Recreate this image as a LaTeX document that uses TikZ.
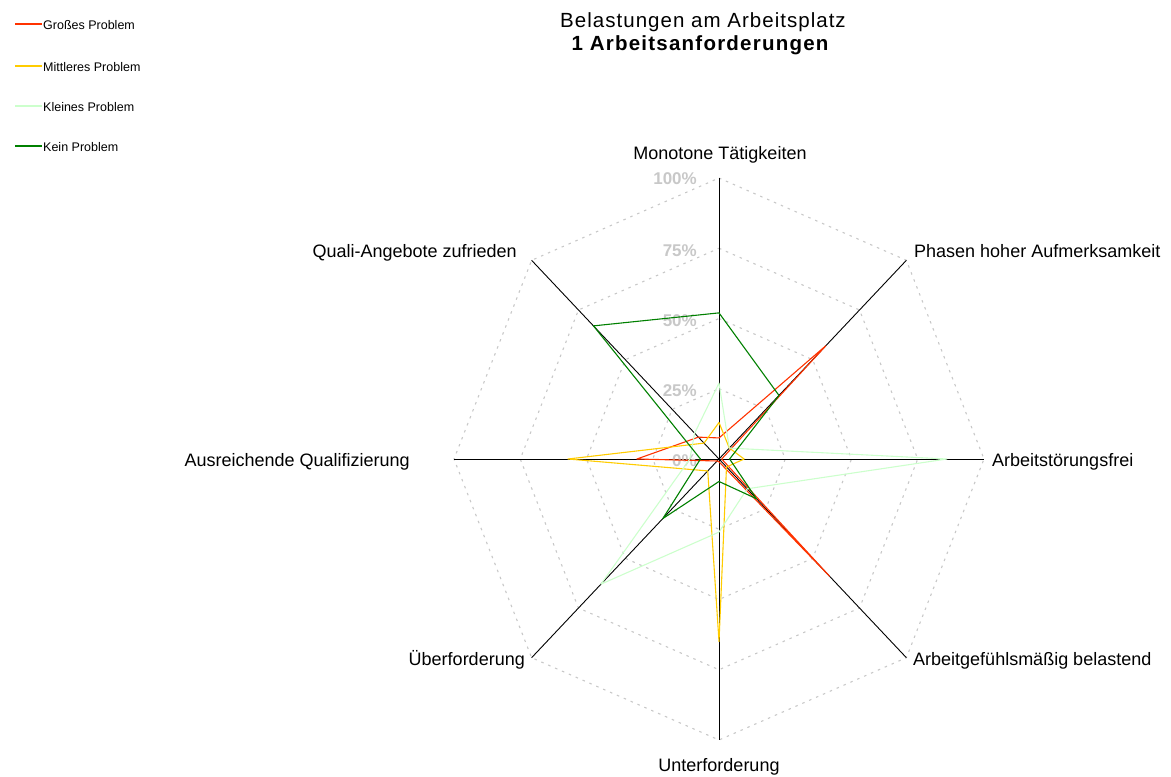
\documentclass[tikz,border=0pt]{standalone}
\usepackage{fontspec}
\setmainfont{Liberation Sans}
\definecolor{sred}{HTML}{FF3300}
\definecolor{syellow}{HTML}{FFCC00}
\definecolor{slgreen}{HTML}{CCFFCC}
\definecolor{sdgreen}{HTML}{008000}
\definecolor{pctgray}{HTML}{C8C8C8}
\definecolor{gridgray}{HTML}{C8C8C8}
\tikzset{
  series/.style={line width=1.1pt, line join=round},
  gridring/.style={draw=gridgray, line width=1.1pt, dash pattern=on 2.5pt off 5pt},
  spoke/.style={draw=black, line width=0.9pt},
  catlabel/.style={font=\fontsize{18}{21}\selectfont, inner sep=0pt},
  pctlabel/.style={font=\fontsize{17}{20}\selectfont\bfseries, text=pctgray, inner sep=0pt, anchor=east},
  leglabel/.style={font=\fontsize{12.5}{15}\selectfont, inner sep=0pt, anchor=base west},
  legline/.style={line width=1.1pt},
}
\begin{document}
\begin{tikzpicture}[x=1pt,y=-1pt]
\useasboundingbox (0,0) rectangle (1171,777);
% legend
\coordinate (l1a) at (15,24); \coordinate (l1b) at (42,24);
\coordinate (l2a) at (15,66); \coordinate (l2b) at (42,66);
\coordinate (l3a) at (15,106); \coordinate (l3b) at (42,106);
\coordinate (l4a) at (15,146); \coordinate (l4b) at (42,146);
\draw[legline, sred] (l1a) -- (l1b);
\draw[legline, syellow] (l2a) -- (l2b);
\draw[legline, slgreen] (l3a) -- (l3b);
\draw[legline, sdgreen] (l4a) -- (l4b);
\node[leglabel] (lg1) at (43,29.5) {Großes Problem};
\node[leglabel] (lg2) at (43,71.5) {Mittleres Problem};
\node[leglabel] (lg3) at (43,111.5) {Kleines Problem};
\node[leglabel] (lg4) at (43,151.5) {Kein Problem};
% title
\node[font=\fontsize{20.5}{24}\selectfont\addfontfeature{LetterSpace=5}, anchor=base, inner sep=0pt] (title) at (703,27) {Belastungen am Arbeitsplatz};
\node[font=\fontsize{20.5}{24}\selectfont\bfseries\addfontfeature{LetterSpace=6}, anchor=base, inner sep=0pt] (subtitle) at (700,50) {1 Arbeitsanforderungen};
% category labels
\node[catlabel, anchor=base] (c1) at (720,159.5) {Monotone Tätigkeiten};
\node[catlabel, anchor=base west] (c2) at (914,257) {Phasen hoher Aufmerksamkeit};
\node[catlabel, anchor=base west] (c3) at (992,466) {Arbeitstörungsfrei};
\node[catlabel, anchor=base west] (c4) at (913,665) {Arbeitgefühlsmäßig belastend};
\node[catlabel, anchor=base] (c5) at (719,771) {Unterforderung};
\node[catlabel, anchor=base east] (c6) at (525,665) {Überforderung};
\node[catlabel, anchor=base east] (c7) at (410,466) {Ausreichende Qualifizierung};
\node[catlabel, anchor=base east] (c8) at (517,257) {Quali-Angebote zufrieden};
% chart
\begin{scope}[shift={(719,459)}, x=265pt, y=281pt]
  \coordinate (O) at (0,0);
  \foreach \r in {0.25,0.5,0.75,1}{
    \draw[gridring] (90:\r) \foreach \a in {45,0,-45,-90,-135,180,135}{ -- (\a:\r)} -- cycle;
  }
  \foreach \a in {90,45,0,-45,-90,-135,180,135}{
    \coordinate (E\a) at (\a:1);
    \draw[spoke] (O) -- (E\a);
  }
\end{scope}
\node[pctlabel] (p100) at (697,179) {100\%};
\node[pctlabel] (p75) at (697,251) {75\%};
\node[pctlabel] (p50) at (697,321) {50\%};
\node[pctlabel] (p25) at (697,391) {25\%};
\node[pctlabel] (p0) at (697,461) {0\%};
\begin{scope}[shift={(719,459)}, x=265pt, y=281pt]
  \draw[series, sred] (90:.075) -- (45:.57) -- (0:.01) -- (-45:.59) -- (-90:.01) -- (-135:.01) -- (180:.31) -- (135:.11) -- cycle;
  \draw[series, syellow] (90:.13) -- (45:.055) -- (0:.095) -- (-45:.04) -- (-90:.65) -- (-135:.06) -- (180:.57) -- (135:.08) -- cycle;
  \draw[series, slgreen] (90:.27) -- (45:.055) -- (0:.86) -- (-45:.15) -- (-90:.26) -- (-135:.63) -- (180:.11) -- (135:.13) -- cycle;
  \draw[series, sdgreen] (90:.52) -- (45:.32) -- (0:.04) -- (-45:.20) -- (-90:.08) -- (-135:.30) -- (180:.07) -- (135:.67) -- cycle;
\end{scope}
\end{tikzpicture}
\end{document}
